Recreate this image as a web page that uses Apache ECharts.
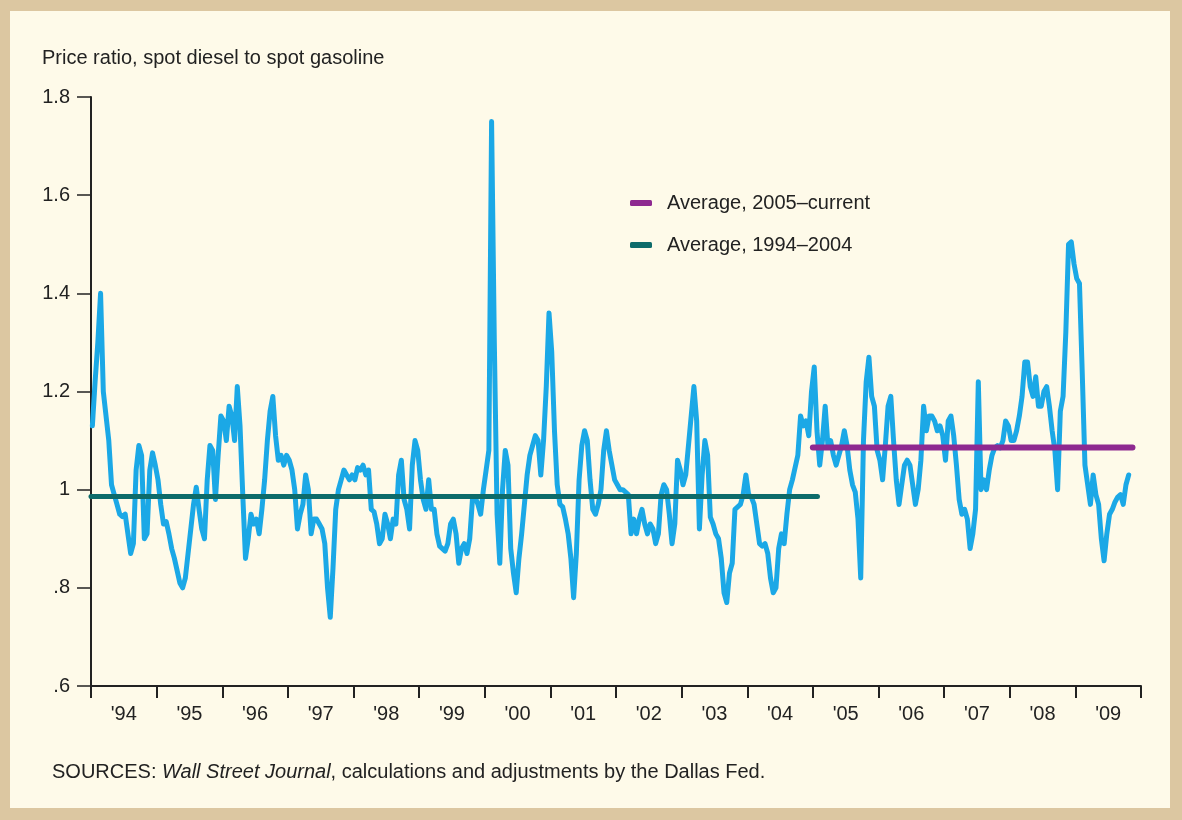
<!DOCTYPE html>
<html>
<head>
<meta charset="utf-8">
<script src="https://cdn.jsdelivr.net/npm/echarts@6/dist/echarts.min.js"></script>
<style>
  html, body { margin: 0; padding: 0; background: #dcc7a1; }
  #chart { position: absolute; left: 10px; top: 11px; width: 1160px; height: 797px; background: #fefae9; }
</style>
</head>
<body>
<div id="chart"></div>
<script>
// tick labels, one per year
var yearLabels = ["'94", "'95", "'96", "'97", "'98", "'99", "'00", "'01", "'02", "'03", "'04", "'05", "'06", "'07", "'08", "'09"];
var firstYear = 1994;

// ratio readings, about two per month, per year
var ratio1994 = [1.13, 1.22, 1.30, 1.40, 1.20, 1.15, 1.10, 1.01, 0.99, 0.97, 0.95, 0.945, 0.95, 0.91, 0.87, 0.89, 1.04, 1.09, 1.07, 0.90, 0.91, 1.04, 1.075, 1.05];
var ratio1995 = [1.02, 0.97, 0.93, 0.935, 0.91, 0.88, 0.86, 0.835, 0.81, 0.80, 0.82, 0.87, 0.92, 0.97, 1.005, 0.96, 0.92, 0.90, 1.02, 1.09, 1.08, 0.98, 1.07, 1.15];
var ratio1996 = [1.14, 1.10, 1.17, 1.15, 1.10, 1.21, 1.13, 0.99, 0.86, 0.90, 0.95, 0.93, 0.94, 0.91, 0.96, 1.02, 1.10, 1.16, 1.19, 1.11, 1.06, 1.07, 1.05, 1.07];
var ratio1997 = [1.06, 1.04, 1.00, 0.92, 0.95, 0.97, 1.03, 1.00, 0.91, 0.94, 0.94, 0.93, 0.92, 0.89, 0.80, 0.74, 0.84, 0.96, 1.00, 1.02, 1.04, 1.03, 1.02, 1.03];
var ratio1998 = [1.02, 1.045, 1.04, 1.05, 1.03, 1.04, 0.96, 0.955, 0.93, 0.89, 0.90, 0.95, 0.93, 0.90, 0.94, 0.93, 1.03, 1.06, 0.98, 0.96, 0.92, 1.05, 1.10, 1.08];
var ratio1999 = [1.02, 0.98, 0.96, 1.02, 0.96, 0.96, 0.91, 0.885, 0.88, 0.875, 0.89, 0.93, 0.94, 0.91, 0.85, 0.88, 0.89, 0.87, 0.90, 0.98, 0.985, 0.97, 0.95, 1.00];
var ratio2000 = [1.04, 1.08, 1.75, 1.30, 0.95, 0.85, 1.00, 1.08, 1.05, 0.88, 0.83, 0.79, 0.86, 0.91, 0.97, 1.03, 1.07, 1.09, 1.11, 1.10, 1.03, 1.10, 1.21, 1.36];
var ratio2001 = [1.28, 1.12, 1.01, 0.97, 0.965, 0.94, 0.91, 0.86, 0.78, 0.87, 1.02, 1.09, 1.12, 1.10, 1.02, 0.96, 0.95, 0.97, 1.00, 1.08, 1.12, 1.08, 1.05, 1.02];
var ratio2002 = [1.01, 1.00, 1.00, 0.995, 0.99, 0.91, 0.94, 0.91, 0.94, 0.96, 0.93, 0.91, 0.93, 0.92, 0.89, 0.91, 0.99, 1.01, 1.00, 0.95, 0.89, 0.93, 1.06, 1.04];
var ratio2003 = [1.01, 1.03, 1.09, 1.15, 1.21, 1.14, 0.92, 1.03, 1.10, 1.07, 0.944, 0.93, 0.91, 0.90, 0.86, 0.79, 0.77, 0.83, 0.85, 0.96, 0.965, 0.97, 0.99, 1.03];
var ratio2004 = [0.99, 0.985, 0.97, 0.93, 0.89, 0.885, 0.89, 0.87, 0.82, 0.79, 0.80, 0.88, 0.91, 0.89, 0.95, 1.00, 1.02, 1.045, 1.07, 1.15, 1.13, 1.14, 1.11, 1.20];
var ratio2005 = [1.25, 1.12, 1.05, 1.10, 1.17, 1.09, 1.10, 1.07, 1.05, 1.07, 1.09, 1.12, 1.09, 1.04, 1.01, 0.995, 0.94, 0.82, 1.10, 1.22, 1.27, 1.19, 1.17, 1.08];
var ratio2006 = [1.06, 1.02, 1.09, 1.17, 1.19, 1.10, 1.02, 0.97, 1.01, 1.05, 1.06, 1.05, 1.01, 0.97, 1.00, 1.06, 1.17, 1.12, 1.15, 1.15, 1.14, 1.12, 1.13, 1.11];
var ratio2007 = [1.06, 1.14, 1.15, 1.11, 1.05, 0.98, 0.95, 0.96, 0.94, 0.88, 0.91, 0.96, 1.22, 1.00, 1.02, 1.00, 1.04, 1.07, 1.085, 1.09, 1.085, 1.10, 1.14, 1.13];
var ratio2008 = [1.10, 1.10, 1.12, 1.15, 1.19, 1.26, 1.26, 1.21, 1.19, 1.23, 1.17, 1.17, 1.20, 1.21, 1.17, 1.12, 1.08, 1.00, 1.16, 1.19, 1.32, 1.50, 1.505, 1.46];
var ratio2009 = [1.43, 1.42, 1.24, 1.05, 1.01, 0.97, 1.03, 0.99, 0.97, 0.90, 0.855, 0.91, 0.95, 0.96, 0.975, 0.985, 0.99, 0.97, 1.01, 1.03];

var ratioByYear = [ratio1994, ratio1995, ratio1996, ratio1997, ratio1998, ratio1999, ratio2000, ratio2001,
  ratio2002, ratio2003, ratio2004, ratio2005, ratio2006, ratio2007, ratio2008, ratio2009];

// averages and the periods they cover
var avgEarly = 0.986;
var avgEarlySpan = [1994, 2005.07];
var avgLate = 1.086;
var avgLateSpan = [2005, 2009.87];

var FONT = '"Liberation Sans", Arial, sans-serif';
var INK = '#222222';

// two readings per month -> place each at the middle of its half month
var ratioPoints = [];
ratioByYear.forEach(function (vals, k) {
  vals.forEach(function (v, i) {
    ratioPoints.push([firstYear + k + (i + 0.5) / 24, v]);
  });
});

var chart = echarts.init(document.getElementById('chart'));

var option = {
  animation: false,
  title: {
    text: 'Price ratio, spot diesel to spot gasoline',
    left: 27,
    top: 32,
    textStyle: { fontFamily: FONT, fontSize: 20, fontWeight: 'normal', color: INK }
  },
  legend: {
    data: ['Average, 2005\u2013current', 'Average, 1994\u20132004'],
    orient: 'vertical',
    left: 615,
    top: 177,
    itemGap: 22,
    itemWidth: 22,
    itemHeight: 6,
    icon: 'roundRect',
    textStyle: { fontFamily: FONT, fontSize: 20, color: INK, padding: [0, 0, 0, 10] }
  },
  grid: { left: 81, right: 29, top: 86, bottom: 122 },
  xAxis: [
    {
      type: 'category',
      data: yearLabels,
      boundaryGap: true,
      axisLine: { lineStyle: { color: INK, width: 2 } },
      axisTick: { show: true, alignWithLabel: false, length: 12, lineStyle: { color: INK, width: 2 } },
      axisLabel: { margin: 18, fontFamily: FONT, fontSize: 20, color: INK }
    },
    {
      type: 'value',
      min: 1994,
      max: 2010,
      show: false
    }
  ],
  yAxis: {
    type: 'value',
    min: 0.6,
    max: 1.8,
    interval: 0.2,
    axisLine: { show: true, lineStyle: { color: INK, width: 2 } },
    axisTick: { show: true, length: 14, lineStyle: { color: INK, width: 1.5 } },
    splitLine: { show: false },
    axisLabel: {
      margin: 21,
      fontFamily: FONT,
      fontSize: 20,
      color: INK,
      formatter: function (v) {
        return String(Math.round(v * 10) / 10).replace(/^0\./, '.');
      }
    }
  },
  graphic: [
    {
      type: 'text',
      left: 42,
      top: 751,
      style: {
        text: '{n|SOURCES: }{i|Wall Street Journal}{n|, calculations and adjustments by the Dallas Fed.}',
        rich: {
          n: { fontFamily: FONT, fontSize: 20, fill: INK },
          i: { fontFamily: FONT, fontSize: 20, fontStyle: 'italic', fill: INK }
        }
      }
    }
  ],
  series: [
    {
      name: 'Ratio',
      type: 'line',
      xAxisIndex: 1,
      data: ratioPoints,
      symbol: 'none',
      color: '#1ba8e6',
      lineStyle: { width: 5, color: '#1ba8e6', join: 'round', cap: 'round' },
      z: 2
    },
    {
      name: 'Average, 1994\u20132004',
      type: 'line',
      xAxisIndex: 1,
      data: [[avgEarlySpan[0], avgEarly], [avgEarlySpan[1], avgEarly]],
      symbol: 'none',
      color: '#0d6b6a',
      lineStyle: { width: 5, color: '#0d6b6a', cap: 'round' },
      z: 3
    },
    {
      name: 'Average, 2005\u2013current',
      type: 'line',
      xAxisIndex: 1,
      data: [[avgLateSpan[0], avgLate], [avgLateSpan[1], avgLate]],
      symbol: 'none',
      color: '#8e2990',
      lineStyle: { width: 6, color: '#8e2990', cap: 'round' },
      z: 3
    }
  ]
};

chart.setOption(option);
</script>
</body>
</html>
